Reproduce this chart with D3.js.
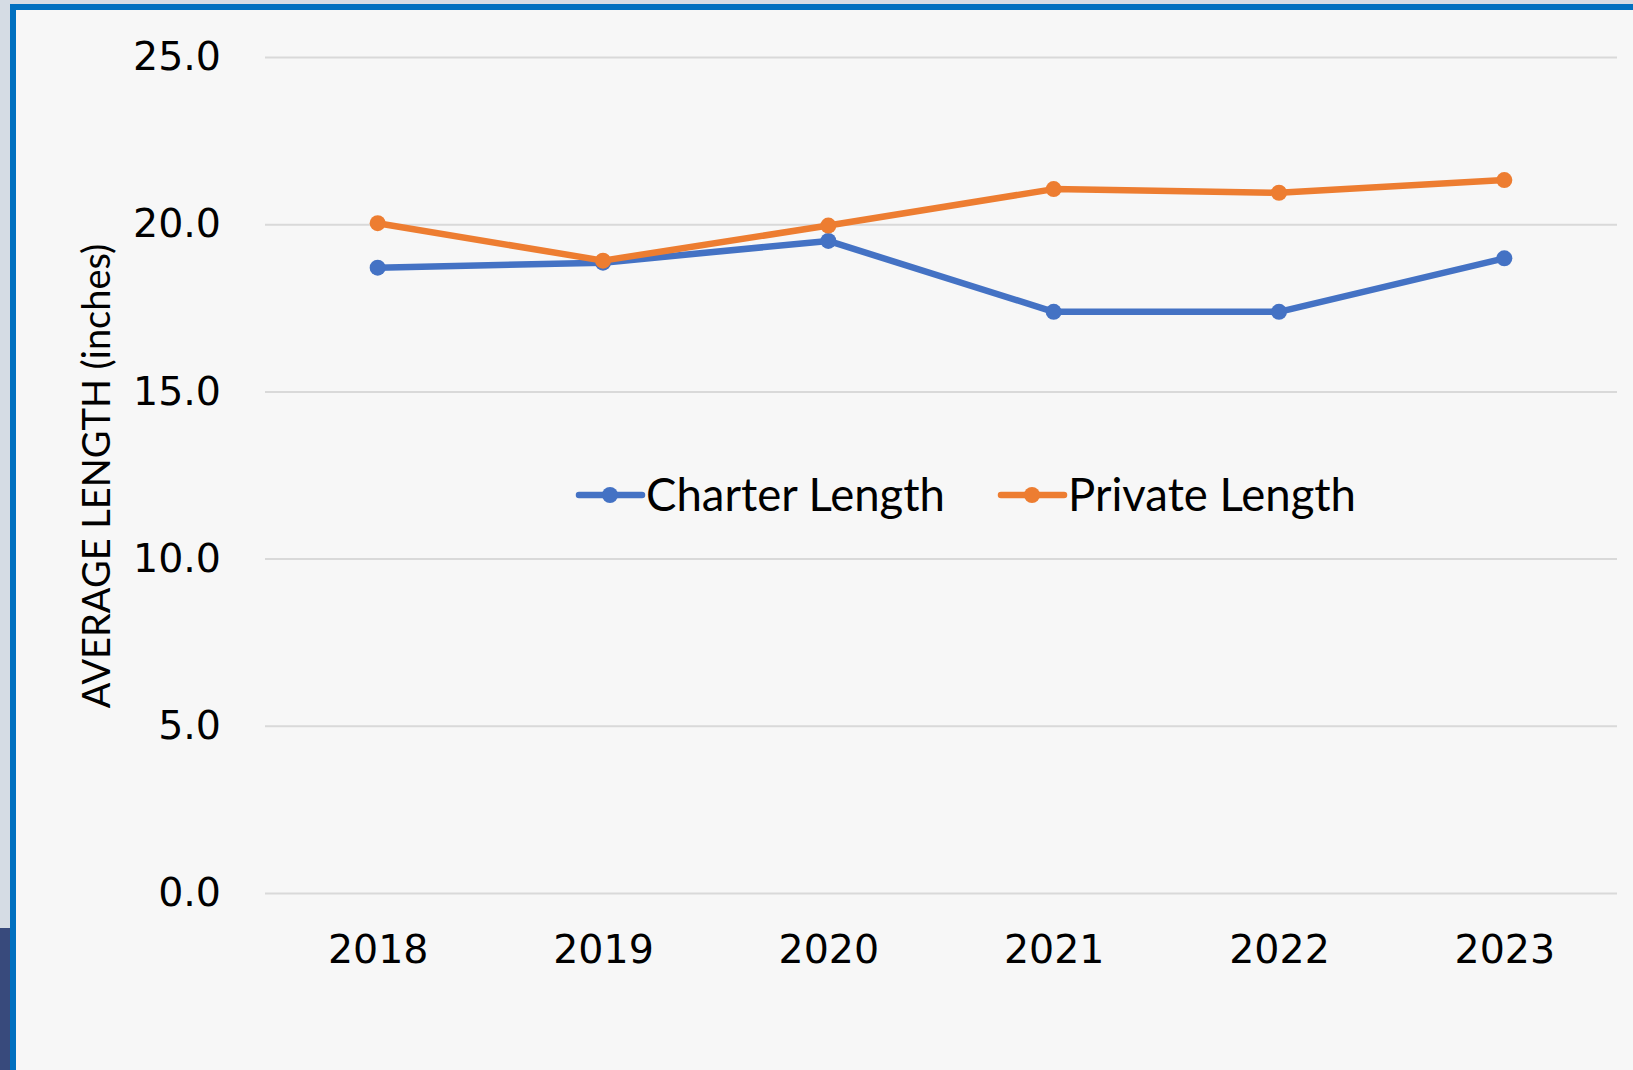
<!DOCTYPE html>
<html>
<head>
<meta charset="utf-8">
<script src="https://cdn.jsdelivr.net/npm/d3@7"></script>
<style>
  body { margin: 0; background: #d5dce4; }
  svg { display: block; }
  .tick text { font-family: "DejaVu Sans", sans-serif; font-size: 39.5px; fill: #000; }
</style>
</head>
<body>
<svg width="1633" height="1070"></svg>
<script>
var years = ["2018", "2019", "2020", "2021", "2022", "2023"];
var charterLength = [18.7, 18.85, 19.5, 17.38, 17.38, 18.98];
var privateLength = [20.03, 18.91, 19.96, 21.05, 20.94, 21.32];
var yTicks = [0, 5, 10, 15, 20, 25];
var seriesNames = ["Charter Length", "Private Length"];
var seriesColors = ["#4472c4", "#ed7d31"];

var svg = d3.select("svg"),
    width = +svg.attr("width"),
    height = +svg.attr("height");

// frame: grey strip, blue border, dark block bottom left
svg.append("rect").attr("width", width).attr("height", height).attr("fill", "#d5dce4");
svg.append("rect").attr("x", 0).attr("y", 928).attr("width", 10).attr("height", height - 928).attr("fill", "#384a7c");
svg.append("rect").attr("x", 10).attr("y", 4).attr("width", width - 10).attr("height", height - 4).attr("fill", "#0070c0");
svg.append("rect").attr("x", 16).attr("y", 10).attr("width", width - 16).attr("height", height - 10).attr("fill", "#f7f7f7");

var x = d3.scalePoint()
  .domain(years)
  .range([265, 1617])
  .padding(0.5);

var y = d3.scaleLinear()
  .domain([0, 25])
  .range([893, 57]);

// gridlines + y labels
var yAxis = svg.append("g")
  .attr("transform", "translate(265,0)")
  .call(d3.axisLeft(y)
    .tickValues(yTicks)
    .tickFormat(d3.format(".1f"))
    .tickSize(-(1617 - 265))
    .tickPadding(44));
yAxis.select(".domain").remove();
yAxis.selectAll(".tick line").attr("stroke", "#d9d9d9").attr("stroke-width", 2);

// x labels
var xAxis = svg.append("g")
  .attr("transform", "translate(0,893)")
  .call(d3.axisBottom(x).tickSize(0).tickPadding(42));
xAxis.select(".domain").remove();

svg.append("text")
  .attr("transform", "translate(110,476) rotate(-90)")
  .attr("text-anchor", "middle")
  .style("font-family", "Lato, sans-serif")
  .style("font-size", "38px")
  .text("AVERAGE LENGTH (inches)");

var line = d3.line()
  .x((d, i) => x(years[i]))
  .y((d) => y(d));

[charterLength, privateLength].forEach((values, k) => {
  var g = svg.append("g");
  g.append("path")
    .datum(values)
    .attr("fill", "none")
    .attr("stroke", seriesColors[k])
    .attr("stroke-width", 6.5)
    .attr("stroke-linejoin", "round")
    .attr("d", line);
  g.selectAll("circle")
    .data(values)
    .enter()
    .append("circle")
    .attr("cx", (d, i) => x(years[i]))
    .attr("cy", (d) => y(d))
    .attr("r", 8)
    .attr("fill", seriesColors[k]);
});

// legend
var legendX = [579, 1001];
var legend = svg.append("g")
  .selectAll("g")
  .data(seriesNames)
  .enter()
  .append("g")
  .attr("transform", (d, i) => "translate(" + legendX[i] + ",495)");
legend.append("line")
  .attr("x1", 0).attr("x2", 63)
  .attr("stroke", (d, i) => seriesColors[i])
  .attr("stroke-width", 6.5)
  .attr("stroke-linecap", "round");
legend.append("circle")
  .attr("cx", 31).attr("r", 8)
  .attr("fill", (d, i) => seriesColors[i]);
legend.append("text")
  .attr("x", 67)
  .attr("dy", "0.35em")
  .style("font-family", "Lato, sans-serif")
  .style("font-size", "45.5px")
  .text((d) => d);
</script>
</body>
</html>
